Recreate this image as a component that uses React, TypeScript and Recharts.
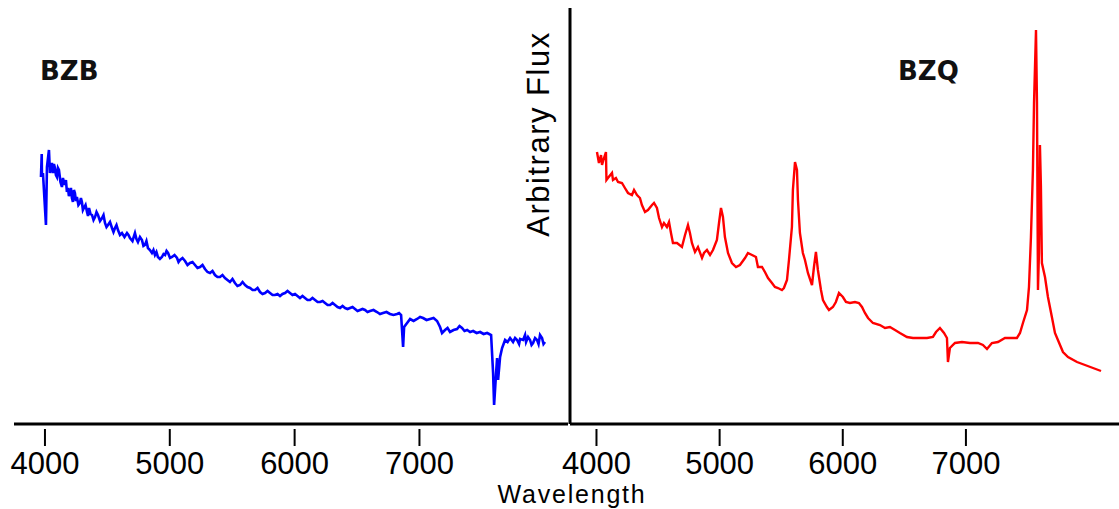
import React from 'react';
import { LineChart, Line, XAxis, YAxis, ReferenceLine } from 'recharts';

const FONT = "'Liberation Sans', Arial, sans-serif";

// BZB (blazar, BL Lac type) spectrum
const bzbWavelength = [
  3968, 3974, 3976, 3984, 4008, 4016, 4032, 4040, 4056, 4064, 4072, 4080, 4088, 4096, 4104, 4112, 4124, 4136, 4144, 4156,
  4168, 4176, 4184, 4192, 4200, 4208, 4216, 4224, 4232, 4240, 4248, 4256, 4268, 4280, 4288, 4296, 4304, 4312, 4325, 4337,
  4345, 4353, 4365, 4377, 4389, 4401, 4413, 4425, 4441, 4457, 4469, 4481, 4493, 4505, 4521, 4537, 4549, 4561, 4573, 4585,
  4601, 4617, 4637, 4657, 4669, 4681, 4701, 4721, 4733, 4745, 4761, 4777, 4789, 4801, 4813, 4825, 4841, 4857, 4869, 4881,
  4893, 4905, 4921, 4937, 4950, 4962, 4974, 4986, 5002, 5018, 5038, 5058, 5070, 5082, 5102, 5122, 5142, 5162, 5182, 5202,
  5222, 5242, 5262, 5282, 5302, 5322, 5342, 5362, 5382, 5402, 5422, 5442, 5462, 5482, 5502, 5522, 5542, 5563, 5583, 5603,
  5623, 5643, 5663, 5683, 5703, 5723, 5743, 5763, 5783, 5803, 5823, 5843, 5863, 5883, 5903, 5923, 5943, 5963, 5983, 6003,
  6023, 6043, 6063, 6083, 6103, 6123, 6143, 6164, 6184, 6204, 6224, 6244, 6264, 6284, 6304, 6324, 6344, 6364, 6384, 6404,
  6424, 6444, 6464, 6484, 6504, 6524, 6544, 6564, 6584, 6604, 6632, 6660, 6684, 6708, 6736, 6764, 6792, 6821, 6837, 6853,
  6869, 6877, 6901, 6925, 6953, 6981, 7005, 7029, 7057, 7085, 7113, 7141, 7165, 7181, 7205, 7225, 7245, 7273, 7301, 7321,
  7341, 7361, 7382, 7406, 7430, 7458, 7486, 7514, 7542, 7558, 7574, 7590, 7598, 7614, 7622, 7630, 7646, 7662, 7686, 7706,
  7726, 7750, 7766, 7782, 7798, 7806, 7830, 7846, 7854, 7870, 7886, 7898, 7910, 7926, 7942, 7954, 7966, 7982, 7994, 8006,
];
const bzbFlux = [
  24.7, 27.0, 24.7, 25.1, 19.9, 25.7, 27.4, 25.1, 26.1, 25.1, 26.0, 25.6, 24.9, 24.7, 25.6, 25.4, 24.2, 23.7, 24.6, 23.9,
  24.4, 23.2, 23.6, 22.8, 23.1, 23.6, 22.6, 22.2, 23.4, 23.1, 22.3, 22.7, 21.9, 22.1, 22.6, 22.2, 21.4, 21.6, 21.9, 21.2,
  20.8, 21.6, 21.0, 20.9, 20.4, 20.7, 21.2, 20.9, 20.3, 20.6, 20.9, 20.1, 19.7, 19.9, 20.2, 19.6, 19.2, 19.6, 19.9, 19.4,
  18.9, 19.1, 18.7, 19.1, 18.9, 18.6, 18.3, 19.1, 18.5, 18.2, 18.7, 18.4, 17.8, 17.9, 18.3, 17.6, 17.4, 17.1, 17.4, 16.9,
  17.2, 16.7, 16.5, 16.7, 17.0, 16.9, 17.3, 17.1, 16.6, 16.7, 16.9, 16.6, 16.2, 16.4, 16.6, 16.3, 15.9, 16.1, 16.2, 15.9,
  15.6, 15.7, 15.9, 15.5, 15.2, 15.1, 15.3, 14.9, 14.7, 14.7, 14.9, 14.6, 14.4, 14.2, 14.5, 14.1, 13.8, 13.9, 14.2, 13.9,
  13.7, 13.6, 13.4, 13.4, 13.6, 13.2, 13.0, 13.1, 13.3, 13.1, 12.9, 12.9, 13.0, 12.8, 13.0, 13.1, 13.3, 13.1, 12.9, 13.0,
  12.8, 12.6, 12.8, 12.6, 12.4, 12.4, 12.6, 12.4, 12.2, 12.2, 12.3, 12.1, 11.9, 11.9, 12.1, 11.9, 11.7, 11.6, 11.8, 11.6,
  11.5, 11.6, 11.7, 11.5, 11.3, 11.4, 11.5, 11.4, 11.2, 11.3, 11.4, 11.2, 11.0, 11.1, 11.2, 11.0, 10.9, 11.0, 11.1, 10.9,
  7.7, 9.7, 10.1, 10.5, 10.3, 10.5, 10.7, 10.6, 10.4, 10.5, 10.6, 10.3, 9.7, 9.1, 9.4, 9.6, 9.2, 9.4, 9.5, 9.8,
  9.6, 9.3, 9.4, 9.2, 9.3, 9.1, 9.2, 9.0, 9.1, 9.0, 8.9, 5.1, 1.9, 5.1, 6.6, 4.4, 6.7, 7.6, 8.4, 8.2,
  8.6, 8.2, 8.6, 8.4, 8.0, 8.5, 8.4, 8.9, 8.2, 8.7, 8.4, 7.9, 8.1, 8.6, 8.4, 8.0, 8.9, 8.6, 8.0, 8.2,
];

// BZQ (flat-spectrum radio quasar) spectrum
const bzqWavelength = [
  4004, 4020, 4037, 4045, 4061, 4077, 4081, 4093, 4126, 4134, 4158, 4175, 4207, 4231, 4256, 4288, 4305, 4329, 4353, 4369,
  4394, 4418, 4451, 4467, 4491, 4508, 4532, 4548, 4572, 4589, 4605, 4621, 4654, 4694, 4719, 4743, 4759, 4775, 4800, 4824,
  4857, 4873, 4897, 4922, 4946, 4978, 4995, 5011, 5027, 5043, 5068, 5100, 5133, 5165, 5206, 5230, 5263, 5295, 5311, 5344,
  5368, 5393, 5425, 5449, 5474, 5506, 5522, 5547, 5563, 5587, 5595, 5612, 5628, 5636, 5652, 5676, 5693, 5717, 5750, 5766,
  5782, 5798, 5823, 5839, 5871, 5888, 5920, 5944, 5969, 6001, 6026, 6058, 6099, 6131, 6156, 6180, 6205, 6245, 6302, 6343,
  6383, 6424, 6464, 6521, 6570, 6627, 6684, 6732, 6757, 6789, 6822, 6846, 6854, 6870, 6911, 6968, 7033, 7098, 7138, 7171,
  7211, 7260, 7317, 7374, 7414, 7439, 7463, 7496, 7512, 7528, 7544, 7553, 7569, 7577, 7585, 7593, 7601, 7609, 7617, 7642,
  7666, 7698, 7723, 7747, 7788, 7829, 7902, 7967, 8032, 8097,
];
const bzqFlux = [
  27.2, 26.1, 26.9, 25.9, 26.6, 27.2, 24.4, 24.6, 25.1, 24.4, 24.6, 24.2, 24.1, 23.6, 23.1, 22.9, 23.4, 22.9, 22.6, 21.9,
  21.2, 21.4, 21.9, 22.1, 21.6, 20.6, 19.7, 20.1, 19.7, 20.2, 19.1, 18.1, 18.1, 17.7, 18.9, 19.9, 19.1, 18.1, 17.2, 17.7,
  16.6, 17.1, 17.4, 16.9, 17.4, 18.4, 20.1, 21.6, 20.7, 18.7, 17.1, 16.1, 15.7, 15.9, 16.6, 17.1, 16.9, 16.7, 15.7, 15.7,
  15.2, 14.6, 14.1, 13.7, 13.6, 13.4, 13.6, 14.4, 16.4, 19.7, 23.4, 26.2, 25.4, 22.4, 19.1, 17.1, 16.4, 15.1, 13.9, 15.7,
  17.2, 15.4, 13.4, 12.4, 11.7, 11.4, 11.7, 12.2, 13.1, 12.7, 12.2, 12.1, 12.2, 12.1, 11.7, 11.1, 10.6, 10.1, 9.9, 9.6,
  9.7, 9.4, 9.1, 8.7, 8.6, 8.6, 8.6, 8.7, 9.2, 9.6, 9.1, 8.6, 6.2, 7.6, 8.1, 8.2, 8.1, 8.1, 7.9, 7.5,
  8.1, 8.2, 8.6, 8.6, 8.6, 9.1, 10.1, 11.4, 13.7, 18.7, 25.4, 32.1, 39.4, 32.1, 13.4, 17.1, 27.9, 23.7, 16.1, 14.7,
  12.7, 10.7, 9.1, 8.4, 7.2, 6.7, 6.2, 5.9, 5.6, 5.3,
];

const xTicks = [4000, 5000, 6000, 7000];
const panelTitles = ['BZB', 'BZQ'];
const xLabel = 'Wavelength';
const yLabel = 'Arbitrary Flux';

const bzbData = bzbWavelength.map((wl, i) => ({ wl, flux: bzbFlux[i] }));
const bzqData = bzqWavelength.map((wl, i) => ({ wl, flux: bzqFlux[i] }));

const Tick = (props: any) => {
  const { x, y, payload } = props;
  return (
    <g>
      <line x1={x} x2={x} y1={y + 5} y2={y + 22} stroke="#000" strokeWidth={2} />
      <text x={x} y={y + 50} textAnchor="middle" fontFamily={FONT} fontSize={31} fill="#000">
        {payload.value}
      </text>
    </g>
  );
};

export default function App() {
  return (
    <div style={{ position: 'absolute', left: 0, top: 0, width: 1119, height: 509, background: '#fff', overflow: 'hidden' }}>
      <div style={{ position: 'absolute', left: 0, top: 0 }}>
        <LineChart width={570} height={509} data={bzbData} margin={{ top: 8, right: 2, bottom: 25, left: 14 }}>
          <XAxis
            dataKey="wl"
            type="number"
            domain={[3752, 8190]}
            ticks={xTicks}
            allowDataOverflow
            height={60}
            tickSize={0}
            tickMargin={0}
            tickLine={false}
            axisLine={{ stroke: '#000', strokeWidth: 3 }}
            tick={Tick}
          />
          <YAxis hide domain={[0, 41.6]} allowDataOverflow />
          <Line type="linear" dataKey="flux" stroke="#0000ff" strokeWidth={2.6} dot={false} isAnimationActive={false} />
        </LineChart>
      </div>
      <div style={{ position: 'absolute', left: 560, top: 0 }}>
        <LineChart width={559} height={509} data={bzqData} margin={{ top: 8, right: 0, bottom: 25, left: 10 }}>
          <XAxis
            dataKey="wl"
            type="number"
            domain={[3785, 8243]}
            ticks={xTicks}
            allowDataOverflow
            height={60}
            tickSize={0}
            tickMargin={0}
            tickLine={false}
            axisLine={{ stroke: '#000', strokeWidth: 3 }}
            tick={Tick}
          />
          <YAxis hide domain={[0, 41.6]} allowDataOverflow />
          <ReferenceLine x={3785} stroke="#000" strokeWidth={3} ifOverflow="visible" />
          <Line type="linear" dataKey="flux" stroke="#ff0000" strokeWidth={2.4} dot={false} isAnimationActive={false} />
        </LineChart>
      </div>
      <svg width={1119} height={509} style={{ position: 'absolute', left: 0, top: 0, pointerEvents: 'none' }}>
        <text x={40} y={80} fontFamily="'DejaVu Sans', sans-serif" fontWeight="bold" fontSize={26} fill="#111">
          {panelTitles[0]}
        </text>
        <text x={898} y={80} fontFamily="'DejaVu Sans', sans-serif" fontWeight="bold" fontSize={26} fill="#111">
          {panelTitles[1]}
        </text>
        <text x={572} y={503} textAnchor="middle" fontFamily={FONT} fontSize={25} letterSpacing={1.8} fill="#000">
          {xLabel}
        </text>
        <text transform="translate(549,134) rotate(-90)" textAnchor="middle" fontFamily={FONT} fontSize={31} letterSpacing={1.5} fill="#000">
          {yLabel}
        </text>
      </svg>
    </div>
  );
}
